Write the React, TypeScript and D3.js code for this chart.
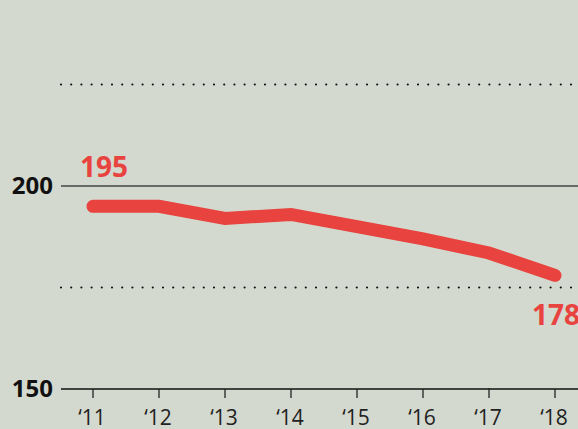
import React from "react";
import * as d3 from "d3";

const W = 578;
const H = 429;

const years = ["\u201811", "\u201812", "\u201813", "\u201814", "\u201815", "\u201816", "\u201817", "\u201818"];
const values = [195, 195, 192, 193, 190, 187, 183.5, 178];
const solidTicks = [150, 200];
const dottedTicks = [175, 225];
const labelTicks = [150, 200];

const red = "#e8433e";
const bg = "#d4d9cf";
const font = "'Open Sans', sans-serif";

const App = () => {
  const x = d3
    .scalePoint<string>()
    .domain(years)
    .range([93, 555]);

  const y = d3.scaleLinear().domain([150, 200]).range([389, 186]);

  const line = d3
    .line<number>()
    .x((d, i) => x(years[i]) as number)
    .y((d) => y(d));

  const first = values[0];
  const last = values[values.length - 1];

  return (
    <svg
      width={W}
      height={H}
      style={{ position: "absolute", left: 0, top: 0, background: bg, fontFamily: font }}
    >
      <rect width={W} height={H} fill={bg} />
      {/* gridlines */}
      {dottedTicks.map((t) => (
        <line
          key={"d" + t}
          x1={61}
          x2={W}
          y1={y(t)}
          y2={y(t)}
          stroke="#111"
          strokeWidth={2.2}
          strokeDasharray="0 10.2"
          strokeLinecap="round"
        />
      ))}
      {solidTicks.map((t) => (
        <line
          key={"s" + t}
          x1={61}
          x2={W}
          y1={y(t)}
          y2={y(t)}
          stroke={t === 150 ? "#111" : "#444"}
          strokeWidth={1.5}
        />
      ))}
      {labelTicks.map((t) => (
        <text
          key={"l" + t}
          x={53}
          y={y(t) + 7.5}
          textAnchor="end"
          fontSize={24}
          fontWeight={700}
          fill="#111"
        >
          {t}
        </text>
      ))}
      {/* x ticks */}
      {years.map((yr, i) => (
        <g key={yr}>
          <line
            x1={x(yr)}
            x2={x(yr)}
            y1={i === 6 ? y(150) - 1 : y(150)}
            y2={y(150) + 9}
            stroke="#222"
            strokeWidth={1.3}
          />
          <text
            x={(x(yr) as number) - 1}
            y={425}
            textAnchor="middle"
            fontSize={21}
            fill="#222"
          >
            {yr}
          </text>
        </g>
      ))}
      {/* data line */}
      <path
        d={line(values) ?? ""}
        fill="none"
        stroke={red}
        strokeWidth={13}
        strokeLinecap="round"
        strokeLinejoin="miter"
      />
      <text
        x={80}
        y={177}
        fontSize={28}
        fontWeight={700}
        fill={red}
      >
        {first}
      </text>
      <text
        x={532}
        y={325}
        fontSize={28}
        fontWeight={700}
        fill={red}
      >
        {Math.round(last)}
      </text>
    </svg>
  );
};

export default App;
